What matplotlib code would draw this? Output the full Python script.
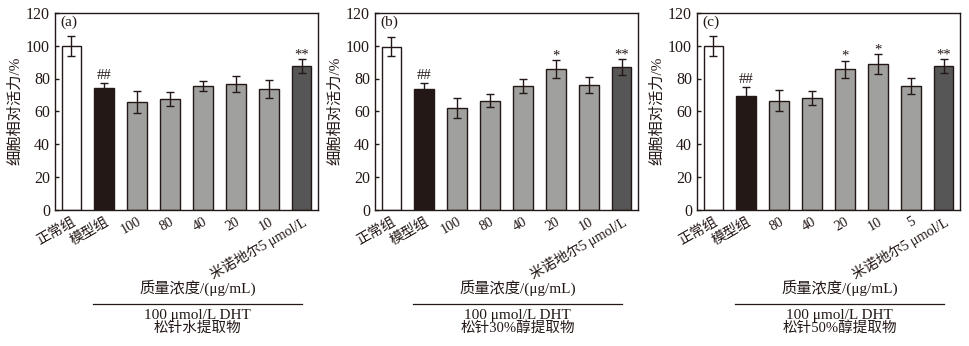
import numpy as np
import matplotlib
matplotlib.use("Agg")
import matplotlib.pyplot as plt
from matplotlib.lines import Line2D

plt.rcParams['font.family'] = ['Liberation Serif', 'Noto Sans CJK SC']

# cell viability (%) for the three extracts
labels_a = ["正常组", "模型组", "100", "80", "40", "20", "10", "米诺地尔5 μmol/L"]
means_a = [100, 74.2, 65.7, 67.5, 75.4, 76.6, 73.6, 87.5]
errs_a = [6.0, 3.0, 6.7, 4.4, 3.0, 5.0, 5.4, 4.3]
marks_a = ["", "##", "", "", "", "", "", "**"]

labels_b = ["正常组", "模型组", "100", "80", "40", "20", "10", "米诺地尔5 μmol/L"]
means_b = [99.5, 73.4, 62.0, 66.5, 75.4, 85.7, 76.0, 86.9]
errs_b = [6.0, 3.6, 6.0, 4.0, 4.2, 5.5, 4.8, 4.9]
marks_b = ["", "##", "", "", "", "*", "", "**"]

labels_c = ["正常组", "模型组", "80", "40", "20", "10", "5", "米诺地尔5 μmol/L"]
means_c = [100, 69.3, 66.5, 68.1, 85.7, 88.7, 75.4, 87.5]
errs_c = [6.0, 5.5, 6.5, 4.3, 5.2, 6.0, 4.8, 4.3]
marks_c = ["", "##", "", "", "*", "*", "", "**"]

extracts = ["松针水提取物", "松针30%醇提取物", "松针50%醇提取物"]
letters = ["(a)", "(b)", "(c)"]

bar_colors = ["#ffffff", "#231815"] + ["#a0a19f"] * 5 + ["#575656"]
ink = "#231815"

fig = plt.figure(figsize=(9.69, 3.46), dpi=100)
lefts = [55 / 969, 375 / 969, 697 / 969]
width = 263 / 969
bottom = 1 - 209.5 / 346
height = 196.5 / 346

panels = [(labels_a, means_a, errs_a, marks_a),
          (labels_b, means_b, errs_b, marks_b),
          (labels_c, means_c, errs_c, marks_c)]

for k, (labels, means, errs, marks) in enumerate(panels):
    ax = fig.add_axes([lefts[k], bottom, width, height])
    x = np.arange(len(labels))
    ax.bar(x, means, width=0.6, color=bar_colors, edgecolor=ink, linewidth=1.0, zorder=2)
    ax.errorbar(x, means, yerr=errs, fmt="none", ecolor=ink, elinewidth=1.0,
                capsize=3, capthick=1.0, zorder=3)
    for xi, m, e, s in zip(x, means, errs, marks):
        if s:
            dy = 1 if s.startswith("#") else -1.5
            ax.annotate(s, (xi, m + e), xytext=(0, dy), textcoords="offset points",
                        ha="center", va="bottom", fontsize=10.5, color=ink)
    ax.set_xlim(-0.5, 7.5)
    ax.set_ylim(0, 120)
    ax.set_yticks(np.arange(0, 121, 20))
    ax.set_xticks(x)
    ax.set_xticklabels(labels, rotation=30, ha="right", va="top", rotation_mode="anchor")
    ax.tick_params(axis="both", direction="in", colors=ink, length=3, width=1)
    ax.tick_params(axis="y", labelsize=11.5)
    ax.tick_params(axis="x", labelsize=10.2, pad=4)
    for sp in ax.spines.values():
        sp.set_linewidth(1.0)
        sp.set_color(ink)
    ax.set_ylabel("细胞相对活力/%", fontsize=11, color=ink, labelpad=3)
    ax.text(0.02, 0.985, letters[k], transform=ax.transAxes, ha="left", va="top",
            fontsize=11, color=ink)

    # dose caption, rule and treatment lines under each panel
    cx = 0.5425
    ax.text(cx, -0.40, "质量浓度/(μg/mL)", transform=ax.transAxes, ha="center", va="center",
            fontsize=11, color=ink)
    ax.add_line(Line2D([0.145, 0.94], [-0.481, -0.481], transform=ax.transAxes,
                       color=ink, linewidth=0.9, clip_on=False))
    ax.text(cx, -0.537, "100 μmol/L DHT", transform=ax.transAxes, ha="center", va="center",
            fontsize=11, color=ink)
    ax.text(cx, -0.603, extracts[k], transform=ax.transAxes, ha="center", va="center",
            fontsize=10.5, color=ink)

fig.savefig("out.png", dpi=100)
